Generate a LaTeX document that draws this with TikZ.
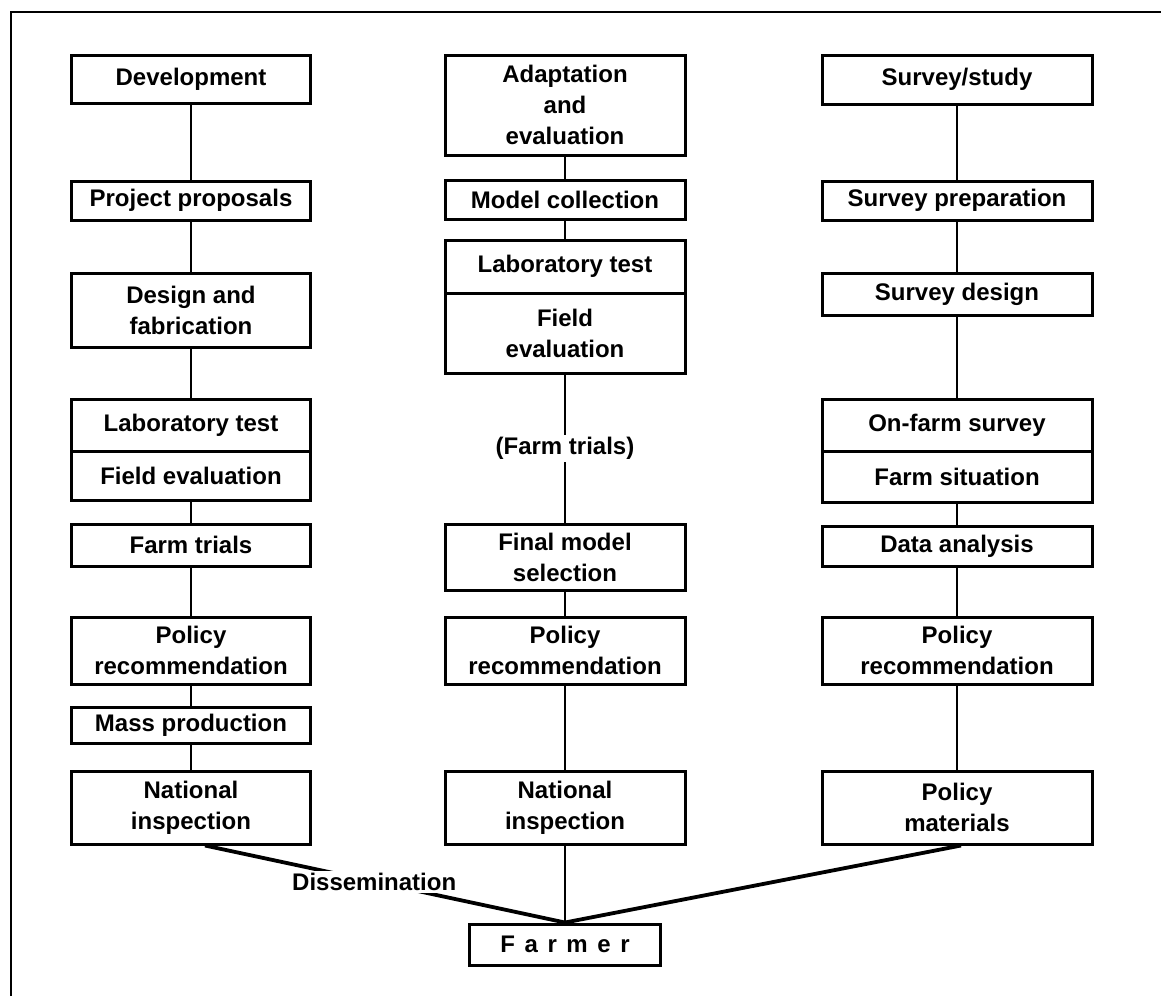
\documentclass[tikz,border=0pt]{standalone}
\usepackage{fontspec}
\setmainfont{Liberation Sans}
\usetikzlibrary{positioning}
\tikzset{
  lab/.style={font=\bfseries\fontsize{12}{15.5}\selectfont},
  box/.style={lab, draw, line width=1.5pt, align=center, inner sep=0pt},
  colL/.style={box, minimum width=119.5pt},
  colM/.style={box, minimum width=120pt},
  colR/.style={box, minimum width=135pt},
  link/.style={line width=1.4pt},
  diag/.style={line width=1.9pt},
}

\begin{document}
\begin{tikzpicture}[x=0.5pt, y=-0.5pt]
    \useasboundingbox (0,0) rectangle (1161,996);
    \draw[line width=1.2pt] (11,996) -- (11,12) -- (1161,12);

    % left column
    \node[colL, minimum height=24pt] (dev) at (191,79) {Development};
    \node[colL, minimum height=19.5pt] (prop) at (191,200.5) {Project proposals};
    \node[colL, minimum height=37pt] (design) at (191,310) {Design and\\fabrication};
    \node[colL, minimum height=26pt] (labL) at (191,425) {Laboratory test};
    \node[colL, minimum height=24.5pt, below=-1.5pt of labL] (fieldL) {Field evaluation};
    \node[colL, minimum height=21pt] (trialL) at (191,545) {Farm trials};
    \node[colL, minimum height=33.5pt] (polL) at (191,650.5) {Policy\\recommendation};
    \node[colL, minimum height=18pt] (mass) at (191,725) {Mass production};
    \node[colL, minimum height=36.5pt] (natL) at (191,807.5) {National\\inspection};

    % middle column
    \node[colM, minimum height=50pt] (adapt) at (565,105) {Adaptation\\and\\evaluation};
    \node[colM, minimum height=19.5pt] (coll) at (565,199.5) {Model collection};
    \node[colM, minimum height=26.5pt] (labM) at (565,266.5) {Laboratory test};
    \node[colM, minimum height=40pt, below=-1.5pt of labM] (fieldM) {Field\\evaluation};
    \node[colM, minimum height=33pt] (final) at (565,557) {Final model\\selection};
    \node[colM, minimum height=33.5pt] (polM) at (565,650.5) {Policy\\recommendation};
    \node[colM, minimum height=36.5pt] (natM) at (565,807.5) {National\\inspection};

    % right column
    \node[colR, minimum height=24.5pt] (survey) at (957,79.5) {Survey/study};
    \node[colR, minimum height=19.5pt] (prep) at (957,200.5) {Survey preparation};
    \node[colR, minimum height=21pt] (sdesign) at (957,294) {Survey design};
    \node[colR, minimum height=26pt] (onfarm) at (957,425) {On-farm survey};
    \node[colR, minimum height=25.5pt, below=-1.5pt of onfarm] (situ) {Farm situation};
    \node[colR, minimum height=20pt] (data) at (957,546) {Data analysis};
    \node[colR, minimum height=33.5pt] (polR) at (957,650.5) {Policy\\recommendation};
    \node[colR, minimum height=36.5pt] (mat) at (957,807.5) {Policy\\materials};

    \node[box, minimum width=95.5pt, minimum height=20.5pt] (farmer) at (565,944.5) {\addfontfeature{LetterSpace=40}Farmer};

    \draw[link] (dev) -- (prop);
    \draw[link] (prop) -- (design);
    \draw[link] (design) -- (labL);
    \draw[link] (fieldL) -- (trialL);
    \draw[link] (trialL) -- (polL);
    \draw[link] (polL) -- (mass);
    \draw[link] (mass) -- (natL);

    \draw[link] (adapt) -- (coll);
    \draw[link] (coll) -- (labM);
    \draw[link] (fieldM) -- node[lab, fill=white, inner sep=1pt] (trialM) {(Farm trials)} (final);
    \draw[link] (final) -- (polM);
    \draw[link] (polM) -- (natM);
    \draw[link] (natM) -- (farmer);

    \draw[link] (survey) -- (prep);
    \draw[link] (prep) -- (sdesign);
    \draw[link] (sdesign) -- (onfarm);
    \draw[link] (situ) -- (data);
    \draw[link] (data) -- (polR);
    \draw[link] (polR) -- (mat);

    \draw[diag] ([xshift=7pt]natL.south) -- node[pos=0.47, lab, fill=white, inner sep=1pt] (diss) {Dissemination} (farmer.north);
    \draw[diag] ([xshift=2pt]mat.south) -- (farmer.north);
\end{tikzpicture}
\end{document}
